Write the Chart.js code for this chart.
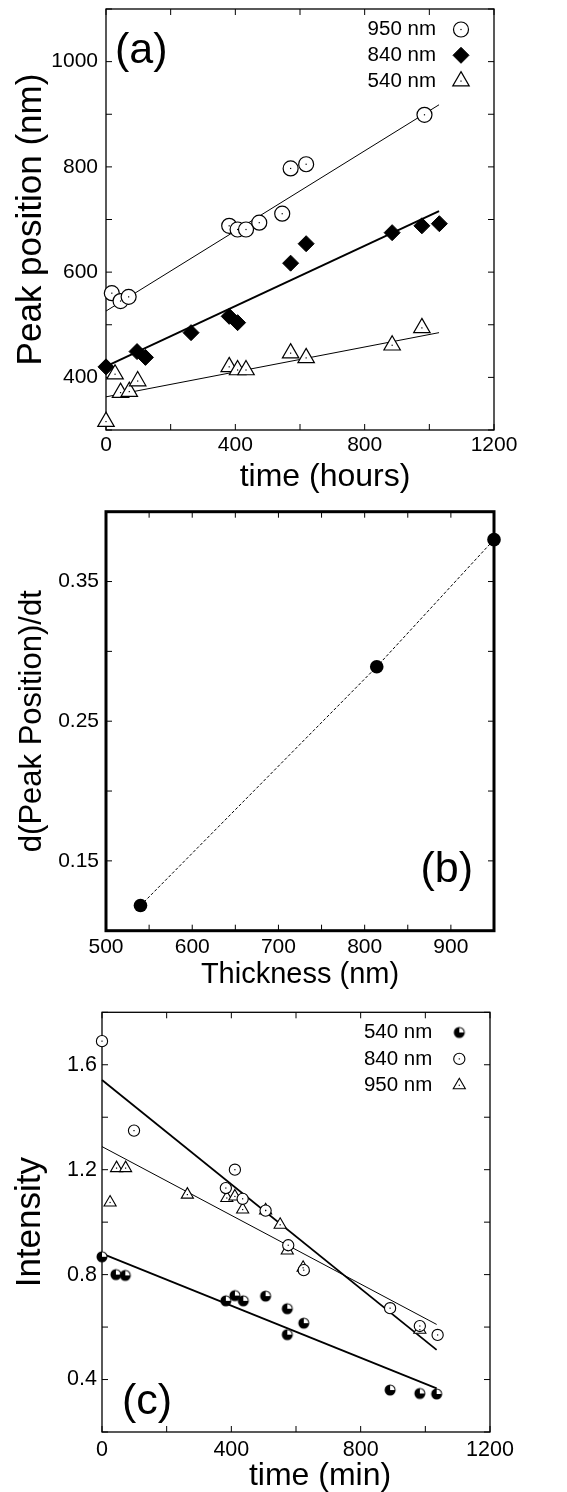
<!DOCTYPE html>
<html>
<head>
<meta charset="utf-8">
<script src="https://cdn.jsdelivr.net/npm/chart.js@4.4.1/dist/chart.umd.min.js"></script>
<style>
  html, body { margin: 0; padding: 0; background: #fff; }
  #fig { position: relative; width: 567px; height: 1492px; overflow: hidden; background: #fff; }
  #fig canvas { position: absolute; left: 0; }
</style>
</head>
<body>
<div id="fig">
  <canvas id="chartA" width="567" height="520" style="top:-20px"></canvas>
  <canvas id="chartB" width="567" height="520" style="top:480px"></canvas>
  <canvas id="chartC" width="567" height="502" style="top:990px"></canvas>
</div>
<script>
// ---------- (a) peak position against time ----------
const hours950 = [18, 45, 70, 381, 407, 433, 474, 545, 571, 619, 985];
const peak950  = [560, 545, 553, 688, 681, 681, 694, 711, 797, 805, 899];
const hours840 = [0, 96, 122, 263, 381, 407, 571, 619, 885, 977, 1031];
const peak840  = [420, 449, 438, 485, 516, 504, 617, 654, 675, 688, 692];
const hours540 = [0, 28, 45, 72, 98, 381, 407, 433, 571, 619, 885, 977];
const peak540  = [316, 406, 371, 373, 393, 420, 414, 414, 446, 437, 461, 494];
const fitHours   = [0, 1030];
const fitPeak950 = [526, 918];
const fitPeak840 = [421, 716];
const fitPeak540 = [363, 485];
const hoursLabels = [0, 400, 800, 1200];
const hoursMarks  = [0, 200, 400, 600, 800, 1000, 1200];
const peakLabels  = [400, 600, 800, 1000];
const peakMarks   = [300, 400, 500, 600, 700, 800, 900, 1000, 1100];

// ---------- (b) growth rate against film thickness ----------
const thicknessNm = [540, 814, 950];
const peakRate    = [0.118, 0.289, 0.38];
const thicknessLabels = [500, 600, 700, 800, 900];
const thicknessMarks  = [500, 550, 600, 650, 700, 750, 800, 850, 900, 950];
const rateLabels = [0.15, 0.25, 0.35];
const rateMarks  = [0.10, 0.15, 0.20, 0.25, 0.30, 0.35, 0.40];

// ---------- (c) intensity against time ----------
const min540 = [0, 43, 72, 383, 411, 437, 506, 573, 573, 624, 891, 983, 1035];
const int540 = [0.868, 0.80, 0.797, 0.70, 0.72, 0.70, 0.718, 0.67, 0.571, 0.615, 0.36, 0.347, 0.345];
const min840 = [0, 99, 383, 411, 435, 506, 576, 624, 891, 983, 1038];
const int840 = [1.69, 1.349, 1.13, 1.20, 1.089, 1.044, 0.912, 0.817, 0.672, 0.604, 0.57];
const min950 = [25, 45, 73, 264, 386, 411, 435, 506, 551, 573, 622, 983];
const int950 = [1.075, 1.206, 1.206, 1.105, 1.092, 1.098, 1.048, 1.045, 0.99, 0.892, 0.826, 0.59];
const fitMin    = [0, 1035];
const fitInt540 = [0.88, 0.366];
const fitInt840 = [1.542, 0.513];
const fitInt950 = [1.288, 0.61];
const minLabels = [0, 400, 800, 1200];
const minMarks  = [0, 200, 400, 600, 800, 1000, 1200];
const intLabels = [0.4, 0.8, 1.2, 1.6];
const intMarks  = [0.2, 0.4, 0.6, 0.8, 1.0, 1.2, 1.4, 1.6, 1.8];

const FONT = '"Liberation Sans", Arial, Helvetica, sans-serif';

function pts(xs, ys) { return xs.map((x, i) => ({ x: x, y: ys[i] })); }

// filled disc with a white upper-right quarter
function quarterDisc(r) {
  const s = Math.ceil(2 * r + 3);
  const c = document.createElement('canvas');
  c.width = s; c.height = s;
  const g = c.getContext('2d');
  const m = s / 2;
  g.fillStyle = '#000';
  g.beginPath(); g.arc(m, m, r, 0, Math.PI * 2); g.fill();
  g.fillStyle = '#fff';
  g.beginPath(); g.moveTo(m, m); g.arc(m, m, r - 1, -Math.PI / 2, 0); g.closePath(); g.fill();
  return c;
}

function markGlyph(ctx, ds, x, y) {
  ctx.save();
  ctx.fillStyle = ds.pointBackgroundColor || '#000';
  ctx.strokeStyle = ds.pointBorderColor || '#000';
  ctx.lineWidth = ds.pointBorderWidth || 1;
  const opts = { pointStyle: ds.pointStyle, radius: ds.pointRadius, rotation: 0, borderWidth: ds.pointBorderWidth || 0 };
  if (Chart.helpers && Chart.helpers.drawPoint) {
    Chart.helpers.drawPoint(ctx, opts, x, y);
  } else if (ds.pointStyle instanceof HTMLCanvasElement) {
    ctx.drawImage(ds.pointStyle, x - ds.pointStyle.width / 2, y - ds.pointStyle.height / 2);
  } else {
    ctx.beginPath(); ctx.arc(x, y, ds.pointRadius, 0, Math.PI * 2); ctx.fill(); ctx.stroke();
  }
  if (ds.centreDot) { ctx.fillStyle = '#000'; ctx.fillRect(x - 0.6, y - 0.6, 1.2, 1.2); }
  ctx.restore();
}

// box around the plotting area with inward tick marks on all four sides
const panelFrame = {
  id: 'panelFrame',
  beforeDatasetsDraw(chart, args, o) {
    const { ctx, chartArea: a } = chart;
    const sx = chart.scales.x, sy = chart.scales.y;
    ctx.save();
    ctx.strokeStyle = '#000';
    ctx.lineWidth = o.tickWidth;
    ctx.beginPath();
    o.xMarks.forEach(v => {
      const p = sx.getPixelForValue(v);
      ctx.moveTo(p, a.bottom); ctx.lineTo(p, a.bottom - o.tickLength);
      ctx.moveTo(p, a.top); ctx.lineTo(p, a.top + o.tickLength);
    });
    o.yMarks.forEach(v => {
      const p = sy.getPixelForValue(v);
      ctx.moveTo(a.left, p); ctx.lineTo(a.left + o.tickLength, p);
      ctx.moveTo(a.right, p); ctx.lineTo(a.right - o.tickLength, p);
    });
    ctx.stroke();
    ctx.lineWidth = o.frameWidth;
    ctx.strokeRect(a.left, a.top, a.right - a.left, a.bottom - a.top);
    ctx.restore();
  }
};

// small dot in the middle of open markers
const centreDots = {
  id: 'centreDots',
  afterDatasetsDraw(chart) {
    const ctx = chart.ctx;
    chart.data.datasets.forEach((ds, i) => {
      if (!ds.centreDot) return;
      ctx.save();
      ctx.fillStyle = '#000';
      chart.getDatasetMeta(i).data.forEach(el => ctx.fillRect(el.x - 0.6, el.y - 0.6, 1.2, 1.2));
      ctx.restore();
    });
  }
};

// key in the upper right corner: label first, marker after it
const cornerKey = {
  id: 'cornerKey',
  afterDatasetsDraw(chart, args, o) {
    if (!o || !o.show) return;
    const { ctx, chartArea: a } = chart;
    let row = 0;
    chart.data.datasets.forEach(ds => {
      if (!ds.keyed) return;
      const y = a.top + o.firstRow + row * o.rowGap;
      ctx.save();
      ctx.font = o.fontSize + 'px ' + FONT;
      ctx.fillStyle = '#000';
      ctx.textAlign = 'right';
      ctx.textBaseline = 'middle';
      ctx.fillText(ds.label, a.right - o.textInset, y);
      ctx.restore();
      markGlyph(ctx, ds, a.right - o.markInset, y);
      row++;
    });
  }
};

// horizontal axis title and panel letter
const captions = {
  id: 'captions',
  afterDraw(chart, args, o) {
    const { ctx, chartArea: a } = chart;
    (o.items || []).forEach(it => {
      ctx.save();
      ctx.font = it.size + 'px ' + FONT;
      ctx.fillStyle = '#000';
      ctx.textAlign = it.align;
      ctx.textBaseline = 'alphabetic';
      const bx = it.anchorX === 'left' ? a.left : it.anchorX === 'right' ? a.right : (a.left + a.right) / 2;
      const by = it.anchorY === 'top' ? a.top : a.bottom;
      ctx.fillText(it.text, bx + it.dx, by + it.dy);
      ctx.restore();
    });
  }
};

function axis(o) {
  return {
    type: 'linear',
    position: o.position,
    min: o.min,
    max: o.max,
    afterBuildTicks: s => { s.ticks = o.labels.map(v => ({ value: v })); },
    afterFit: s => { if (o.position === 'left') s.width = o.size; else s.height = o.size; },
    grid: { display: false, drawTicks: false },
    border: { display: false },
    ticks: {
      color: '#000',
      font: { family: FONT, size: o.fontSize },
      padding: o.pad,
      maxRotation: 0,
      autoSkip: false,
      callback: o.format
    },
    title: o.title
      ? { display: true, text: o.title, color: '#000', font: { family: FONT, size: o.titleSize }, padding: { top: o.titlePad, bottom: 0 } }
      : { display: false }
  };
}

function baseOptions(extra) {
  return {
    responsive: false,
    animation: false,
    events: [],
    layout: { padding: extra.padding, autoPadding: false },
    scales: extra.scales,
    plugins: {
      legend: { display: false },
      tooltip: { enabled: false },
      panelFrame: extra.frame,
      cornerKey: extra.key || { show: false },
      captions: { items: extra.captions }
    }
  };
}

const plugins = [panelFrame, centreDots, cornerKey, captions];

function markerSet(label, xs, ys, style, r, fill, bw, dot) {
  return {
    label: label, data: pts(xs, ys), showLine: false, clip: false,
    pointStyle: style, pointRadius: r, pointBackgroundColor: fill,
    pointBorderColor: '#000', pointBorderWidth: bw, keyed: true, centreDot: dot
  };
}
function fitSet(label, xs, ys, w) {
  return {
    label: label, data: pts(xs, ys), showLine: true, clip: false,
    pointRadius: 0, borderColor: '#000', borderWidth: w, fill: false
  };
}

// ---------- chart (a) ----------
new Chart(document.getElementById('chartA'), {
  type: 'scatter',
  data: {
    datasets: [
      markerSet('950 nm', hours950, peak950, 'circle', 7.5, '#fff', 1.2, true),
      markerSet('840 nm', hours840, peak840, 'rectRot', 8, '#000', 1, false),
      markerSet('540 nm', hours540, peak540, 'triangle', 9.5, '#fff', 1.2, true),
      fitSet('950 nm fit', fitHours, fitPeak950, 1),
      fitSet('840 nm fit', fitHours, fitPeak840, 2),
      fitSet('540 nm fit', fitHours, fitPeak540, 1)
    ]
  },
  options: baseOptions({
    padding: { left: 0, top: 29, right: 73, bottom: 0 },
    scales: {
      x: axis({ position: 'bottom', min: 0, max: 1200, labels: hoursLabels, size: 70, fontSize: 21, pad: 3, format: v => String(v) }),
      y: axis({ position: 'left', min: 300, max: 1100, labels: peakLabels, size: 106, fontSize: 21, pad: 8, format: v => String(v),
                title: 'Peak position (nm)', titleSize: 35, titlePad: 10 })
    },
    frame: { xMarks: hoursMarks, yMarks: peakMarks, tickLength: 6, tickWidth: 1, frameWidth: 1.3 },
    key: { show: true, fontSize: 20.5, textInset: 58, markInset: 33, firstRow: 20.5, rowGap: 25.8 },
    captions: [
      { text: 'time (hours)', size: 32, align: 'center', anchorX: 'center', anchorY: 'bottom', dx: 25, dy: 56 },
      { text: '(a)', size: 43, align: 'left', anchorX: 'left', anchorY: 'top', dx: 9, dy: 54 }
    ]
  }),
  plugins: plugins
});

// ---------- chart (b) ----------
new Chart(document.getElementById('chartB'), {
  type: 'scatter',
  data: {
    datasets: [
      {
        label: 'rate', data: pts(thicknessNm, peakRate), showLine: true, clip: false,
        borderColor: '#000', borderWidth: 1, borderDash: [3, 2],
        pointStyle: 'circle', pointRadius: 6.8, pointBackgroundColor: '#000',
        pointBorderColor: '#000', pointBorderWidth: 0
      }
    ]
  },
  options: baseOptions({
    padding: { left: 0, top: 31.7, right: 73, bottom: 0 },
    scales: {
      x: axis({ position: 'bottom', min: 500, max: 950, labels: thicknessLabels, size: 69.3, fontSize: 21, pad: 4, format: v => String(v) }),
      y: axis({ position: 'left', min: 0.1, max: 0.4, labels: rateLabels, size: 106, fontSize: 21, pad: 7, format: v => v.toFixed(2),
                title: 'd(Peak Position)/dt', titleSize: 31, titlePad: 14 })
    },
    frame: { xMarks: thicknessMarks, yMarks: rateMarks, tickLength: 6, tickWidth: 1, frameWidth: 3 },
    captions: [
      { text: 'Thickness (nm)', size: 29, align: 'center', anchorX: 'center', anchorY: 'bottom', dx: 0, dy: 52 },
      { text: '(b)', size: 43, align: 'right', anchorX: 'right', anchorY: 'bottom', dx: -21, dy: -49 }
    ]
  }),
  plugins: plugins
});

// ---------- chart (c) ----------
new Chart(document.getElementById('chartC'), {
  type: 'scatter',
  data: {
    datasets: [
      markerSet('540 nm', min540, int540, quarterDisc(5.5), 5.5, '#000', 0, false),
      markerSet('840 nm', min840, int840, 'circle', 5.6, '#fff', 1.1, true),
      markerSet('950 nm', min950, int950, 'triangle', 7, '#fff', 1.1, true),
      fitSet('540 nm fit', fitMin, fitInt540, 1.8),
      fitSet('840 nm fit', fitMin, fitInt840, 1.8),
      fitSet('950 nm fit', fitMin, fitInt950, 1)
    ]
  },
  options: baseOptions({
    padding: { left: 0, top: 22.3, right: 77, bottom: 0 },
    scales: {
      x: axis({ position: 'bottom', min: 0, max: 1200, labels: minLabels, size: 60, fontSize: 21.5, pad: 5, format: v => String(v) }),
      y: axis({ position: 'left', min: 0.2, max: 1.8, labels: intLabels, size: 102, fontSize: 21.5, pad: 5, format: v => v.toFixed(1),
                title: 'Intensity', titleSize: 35, titlePad: 9 })
    },
    frame: { xMarks: minMarks, yMarks: intMarks, tickLength: 6, tickWidth: 1, frameWidth: 1.3 },
    key: { show: true, fontSize: 20.5, textInset: 57.7, markInset: 30.7, firstRow: 20.2, rowGap: 26.4 },
    captions: [
      { text: 'time (min)', size: 32, align: 'center', anchorX: 'center', anchorY: 'bottom', dx: 24, dy: 53 },
      { text: '(c)', size: 43, align: 'left', anchorX: 'left', anchorY: 'bottom', dx: 20, dy: -18 }
    ]
  }),
  plugins: plugins
});
</script>
</body>
</html>
